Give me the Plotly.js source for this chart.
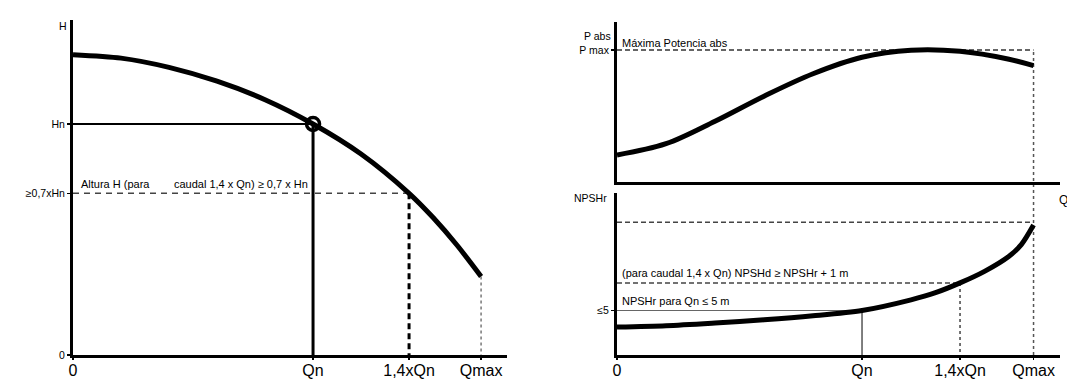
<!DOCTYPE html>
<html>
<head>
<meta charset="utf-8">
<script src="https://cdn.plot.ly/plotly-3.0.1.min.js"></script>
<style>html,body{margin:0;padding:0;background:#fff;}#chart{width:1067px;height:379px;}</style>
</head>
<body>
<div id="chart"></div>
<script>
// ---- data ----
const qTickVals = [0, 10, 14, 17];
const qTickText = ['0', 'Qn', '1,4xQn', 'Qmax'];
const Qn = 10, Q14 = 14, Qmax = 17, Qend = 18.08;

// H-Q curve
const hQ = [0, 2, 4, 6, 8, 10, 12, 14, 15, 16, 17];
const hH = [13, 12.85, 12.45, 11.85, 11.05, 10, 8.7, 7.0, 5.95, 4.75, 3.4];
const Hn = 10, H07 = 7, Htop = 14.5;
const hTickVals = [0, 7, 10];
const hTickText = ['0', '≥0,7xHn', 'Hn'];

// P abs curve
const pQ = [0, 2, 4, 6, 8, 10, 12, 14, 16, 17];
const pP = [2.05, 2.9, 4.6, 6.5, 8.2, 9.45, 9.98, 9.9, 9.3, 8.82];
const Pmax = 10, Ptop = 12.12;
const pTickVals = [10];
const pTickText = ['P max'];

// NPSHr curve
const nQ = [0, 2, 4, 6, 8, 10, 12, 13, 14, 15, 16, 16.5, 17];
const nV = [3.15, 3.3, 3.6, 3.95, 4.4, 5.0, 6.2, 7.0, 8.1, 9.4, 11.1, 12.4, 14.6];
const N5 = 5, N14 = 8.1, NmaxLine = 14.9, Ntop = 18.2;
const nTickVals = [5];
const nTickText = ['≤5'];

// ---- layout geometry ----
const W = 1067, Hh = 379;
const leftDomX = [73 / W, 507 / W];
const leftDomY = [1 - 355 / Hh, 1 - 20 / Hh];
const rightDomX = [617 / W, 1060 / W];
const topDomY = [1 - 182 / Hh, 1 - 22 / Hh];
const botDomY = [1 - 355 / Hh, 1 - 193 / Hh];

const font = 'Liberation Sans, Arial, sans-serif';

function ln(x, y, xa, ya, width, dash, color) {
  return {x: x, y: y, xaxis: xa, yaxis: ya, mode: 'lines', type: 'scatter',
    line: {color: color || '#000', width: width, dash: dash || 'solid'},
    hoverinfo: 'skip', showlegend: false};
}

const traces = [
  // left panel
  ln([0, Qn], [Hn, Hn], 'x', 'y', 2),
  ln([Qn, Qn], [Hn, 0], 'x', 'y', 3),
  ln([0, Q14], [H07, H07], 'x', 'y', 1.5, '6px,5px', '#444'),
  ln([Q14, Q14], [H07, 0], 'x', 'y', 3, '6px,4px'),
  ln([Qmax, Qmax], [hH[hH.length - 1], 0], 'x', 'y', 1.5, 'dot', '#777'),
  {x: hQ, y: hH, xaxis: 'x', yaxis: 'y', mode: 'lines', type: 'scatter',
    line: {color: '#000', width: 5, shape: 'spline', smoothing: 0.8}, hoverinfo: 'skip', showlegend: false},
  {x: [Qn], y: [Hn], xaxis: 'x', yaxis: 'y', mode: 'markers', type: 'scatter',
    marker: {symbol: 'circle-open', size: 13, color: '#000', line: {width: 3.5, color: '#000'}},
    hoverinfo: 'skip', showlegend: false},
  // right top panel
  ln([0, Qmax], [Pmax, Pmax], 'x2', 'y2', 1.5, '5px,3px', '#333'),
  {x: pQ, y: pP, xaxis: 'x2', yaxis: 'y2', mode: 'lines', type: 'scatter',
    line: {color: '#000', width: 5, shape: 'spline', smoothing: 1}, hoverinfo: 'skip', showlegend: false},
  // right bottom panel
  ln([0, Qn], [N5, N5], 'x3', 'y3', 1.2, 'solid', '#666'),
  ln([Qn, Qn], [N5, 0], 'x3', 'y3', 1.5, 'solid', '#555'),
  ln([0, Q14], [N14, N14], 'x3', 'y3', 1.5, '5px,3px', '#444'),
  ln([Q14, Q14], [N14, 0], 'x3', 'y3', 1.5, '3px,3px', '#444'),
  ln([0, Qmax], [NmaxLine, NmaxLine], 'x3', 'y3', 1.5, '5px,3px', '#444'),
  {x: nQ, y: nV, xaxis: 'x3', yaxis: 'y3', mode: 'lines', type: 'scatter',
    line: {color: '#000', width: 5, shape: 'spline', smoothing: 0.8}, hoverinfo: 'skip', showlegend: false}
];

function xAxis(dom, anchor, labels) {
  return {domain: dom, anchor: anchor, range: [0, Qend], showline: true, linewidth: 3, linecolor: '#000',
    showgrid: false, zeroline: false, ticks: labels ? 'outside' : '', ticklen: 2, tickwidth: 1.5, tickcolor: '#000',
    showticklabels: labels, ticklabelstandoff: -3,
    tickvals: qTickVals, ticktext: qTickText, tickfont: {family: font, size: 16, color: '#000'}, fixedrange: true};
}
function yAxis(dom, anchor, top, tv, tt) {
  return {domain: dom, anchor: anchor, range: [0, top], showline: true, linewidth: 3, linecolor: '#000',
    showgrid: false, zeroline: false, ticks: 'outside', ticklen: 3, tickwidth: 1.5, tickcolor: '#000',
    tickvals: tv, ticktext: tt, tickfont: {family: font, size: 10.5, color: '#000'}, fixedrange: true};
}

// dotted Qmax line spanning both right panels
const pmaxPaperY = topDomY[0] + (Pmax / Ptop) * (topDomY[1] - topDomY[0]);

const annFont = {family: font, size: 11, color: '#000'};
const layout = {
  width: W, height: Hh, margin: {l: 0, r: 0, t: 0, b: 0},
  paper_bgcolor: '#fff', plot_bgcolor: 'rgba(0,0,0,0)', showlegend: false,
  xaxis: xAxis(leftDomX, 'y', true),
  yaxis: yAxis(leftDomY, 'x', Htop, hTickVals, hTickText),
  xaxis2: xAxis(rightDomX, 'y2', false),
  yaxis2: yAxis(topDomY, 'x2', Ptop, pTickVals, pTickText),
  xaxis3: xAxis(rightDomX, 'y3', true),
  yaxis3: yAxis(botDomY, 'x3', Ntop, nTickVals, nTickText),
  shapes: [
    {type: 'line', xref: 'x2', yref: 'paper', x0: Qmax, x1: Qmax, y0: botDomY[0], y1: pmaxPaperY,
      line: {color: '#555', width: 1.5, dash: 'dot'}, layer: 'below'}
  ],
  annotations: [
    {xref: 'x', yref: 'paper', x: 0, y: 1 - 18 / Hh, text: 'H', showarrow: false, xanchor: 'right', xshift: -4, font: {family: font, size: 10.5, color: '#000'}},
    {xref: 'x', yref: 'y', x: 0, y: H07, text: 'Altura H (para&nbsp;&nbsp;&nbsp;&nbsp;&nbsp;&nbsp;&nbsp;&nbsp;caudal 1,4 x Qn) ≥ 0,7 x Hn', showarrow: false, xanchor: 'left', yanchor: 'bottom', xshift: 6, yshift: 1, font: annFont},
    {xref: 'x2', yref: 'paper', x: 0, y: 1 - 28 / Hh, text: 'P abs', showarrow: false, xanchor: 'right', xshift: -4, font: {family: font, size: 10.5, color: '#000'}},
    {xref: 'x2', yref: 'y2', x: 0, y: Pmax, text: 'Máxima Potencia abs', showarrow: false, xanchor: 'left', yanchor: 'bottom', xshift: 3, yshift: -1, font: annFont},
    {xref: 'paper', yref: 'paper', x: 1, y: 1 - 200 / Hh, text: 'Q', showarrow: false, xanchor: 'left', xshift: -10, font: {family: font, size: 12, color: '#000'}},
    {xref: 'x3', yref: 'paper', x: 0, y: 1 - 198 / Hh, text: 'NPSHr', showarrow: false, xanchor: 'right', xshift: -8, font: {family: font, size: 10.5, color: '#000'}},
    {xref: 'x3', yref: 'y3', x: 0, y: N14, text: '(para caudal 1,4 x Qn) NPSHd ≥ NPSHr + 1 m', showarrow: false, xanchor: 'left', yanchor: 'bottom', xshift: 3, yshift: 2, font: annFont},
    {xref: 'x3', yref: 'y3', x: 0, y: N5, text: 'NPSHr para Qn ≤ 5 m', showarrow: false, xanchor: 'left', yanchor: 'bottom', xshift: 3, yshift: 1, font: annFont}
  ]
};

Plotly.newPlot('chart', traces, layout, {displayModeBar: false, staticPlot: true});
</script>
</body>
</html>
